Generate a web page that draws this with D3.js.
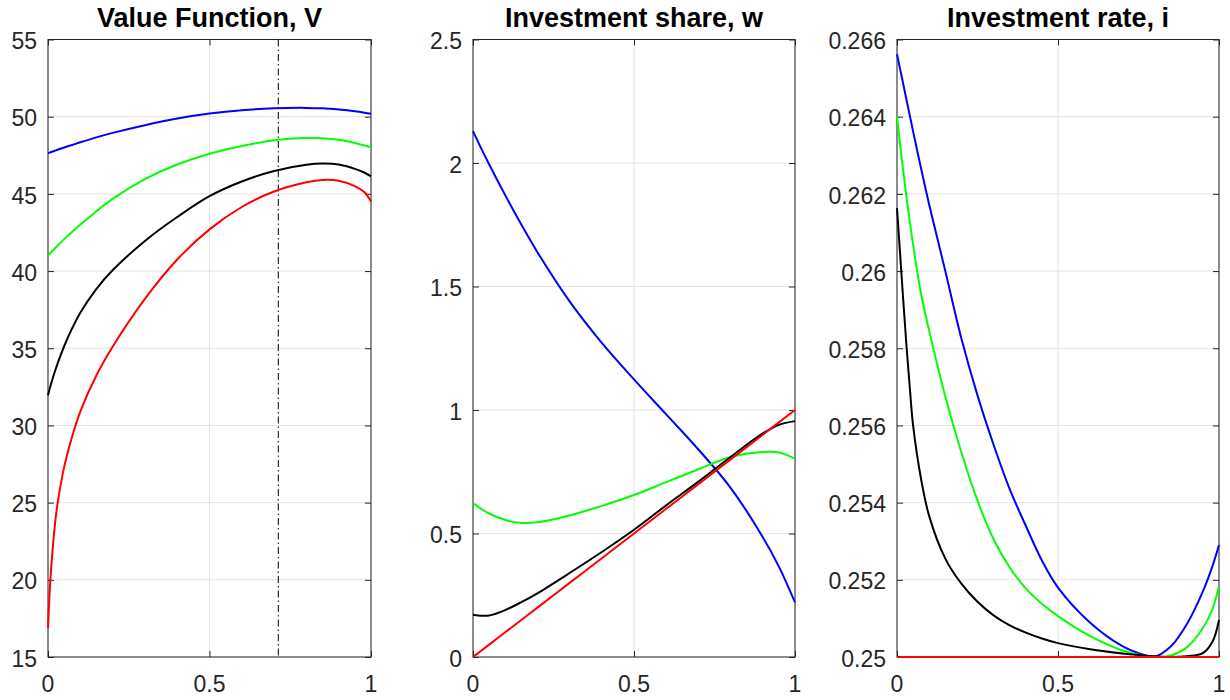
<!DOCTYPE html>
<html>
<head>
<meta charset="utf-8">
<script src="https://cdn.jsdelivr.net/npm/d3@7/dist/d3.min.js"></script>
<style>
body { margin: 0; background: #fff; }
svg { display: block; }
</style>
</head>
<body>
<div id="viz"></div>
<script>
// --- data ---
var titles = ["Value Function, V", "Investment share, w", "Investment rate, i"];
var xTicks = [0, 0.5, 1];
var xTickLabels = ["0", "0.5", "1"];

// panel 1: value function
var xV = [0, 0.005, 0.01, 0.02, 0.03, 0.05, 0.075, 0.1, 0.15, 0.2, 0.3, 0.4, 0.5, 0.6, 0.7, 0.8, 0.85, 0.9, 0.95, 0.98, 1];
var vBlue  = [47.63, 47.67, 47.71, 47.78, 47.86, 48.0, 48.17, 48.34, 48.66, 48.95, 49.45, 49.88, 50.2, 50.42, 50.54, 50.57, 50.54, 50.46, 50.35, 50.26, 50.19];
var vGreen = [41.01, 41.12, 41.23, 41.45, 41.66, 42.07, 42.55, 43.0, 43.88, 44.68, 45.95, 46.9, 47.6, 48.1, 48.48, 48.62, 48.6, 48.5, 48.3, 48.13, 48.0];
var vBlack = [31.96, 32.36, 32.73, 33.41, 34.03, 35.13, 36.3, 37.3, 38.85, 40.05, 41.95, 43.5, 44.85, 45.8, 46.48, 46.88, 46.96, 46.9, 46.62, 46.37, 46.14];
var vRed   = [16.87, 19.2, 20.8, 23.3, 25.0, 27.3, 29.3, 30.9, 33.25, 35.1, 38.2, 40.75, 42.7, 44.15, 45.15, 45.75, 45.9, 45.85, 45.5, 45.1, 44.5];
var vMarker = 0.713;
var vTicks = [15, 20, 25, 30, 35, 40, 45, 50, 55];
var vTickLabels = ["15", "20", "25", "30", "35", "40", "45", "50", "55"];

// panel 2: investment share
var xW = [0, 0.025, 0.05, 0.1, 0.15, 0.2, 0.3, 0.4, 0.5, 0.6, 0.7, 0.8, 0.9, 0.95, 1];
var wBlue  = [2.129, 2.06, 1.995, 1.87, 1.751, 1.639, 1.44, 1.272, 1.124, 0.982, 0.84, 0.685, 0.485, 0.366, 0.221];
var wGreen = [0.623, 0.6, 0.581, 0.555, 0.543, 0.5455, 0.573, 0.612, 0.656, 0.708, 0.76, 0.81, 0.83, 0.828, 0.803];
var wBlack = [0.171, 0.167, 0.168, 0.19, 0.222, 0.258, 0.34, 0.425, 0.515, 0.614, 0.71, 0.81, 0.905, 0.94, 0.955];
var wRed   = [0, 0.025, 0.05, 0.1, 0.15, 0.2, 0.3, 0.4, 0.5, 0.6, 0.7, 0.8, 0.9, 0.95, 1];
var wTicks = [0, 0.5, 1, 1.5, 2, 2.5];
var wTickLabels = ["0", "0.5", "1", "1.5", "2", "2.5"];

// panel 3: investment rate
var xI = [0, 0.01, 0.02, 0.03, 0.04, 0.05, 0.075, 0.1, 0.15, 0.2, 0.25, 0.3, 0.35, 0.4, 0.45, 0.5, 0.6, 0.7, 0.75, 0.8, 0.85, 0.9, 0.95, 0.98, 1];
var iBlue  = [0.26562, 0.26522, 0.26482, 0.26442, 0.26402, 0.26362, 0.26265, 0.26172, 0.26, 0.25825, 0.25678, 0.2555, 0.25435, 0.2534, 0.2525, 0.2518, 0.25089, 0.25028, 0.2501, 0.25001, 0.25027, 0.25085, 0.2517, 0.25236, 0.2529];
var iGreen = [0.2640, 0.26325, 0.26255, 0.26188, 0.26127, 0.26068, 0.2594, 0.25845, 0.25675, 0.2553, 0.25405, 0.25305, 0.25232, 0.25178, 0.25138, 0.25106, 0.25054, 0.25017, 0.25006, 0.25, 0.25004, 0.25025, 0.25075, 0.25125, 0.25185];
var iBlack = [0.26163, 0.2604, 0.25917, 0.258, 0.25695, 0.256, 0.2546, 0.25365, 0.25255, 0.2519, 0.25143, 0.25108, 0.25082, 0.25063, 0.25048, 0.25036, 0.2502, 0.25009, 0.25005, 0.25002, 0.25, 0.25002, 0.2501, 0.2504, 0.25096];
var iRed   = [0.25, 0.25, 0.25, 0.25, 0.25, 0.25, 0.25, 0.25, 0.25, 0.25, 0.25, 0.25, 0.25, 0.25, 0.25, 0.25, 0.25, 0.25, 0.25, 0.25, 0.25, 0.25, 0.25, 0.25, 0.25];
var iTicks = [0.25, 0.252, 0.254, 0.256, 0.258, 0.26, 0.262, 0.264, 0.266];
var iTickLabels = ["0.25", "0.252", "0.254", "0.256", "0.258", "0.26", "0.262", "0.264", "0.266"];

var seriesColors = ["#0000ff", "#00ff00", "#000000", "#ff0000"];

// --- layout ---
var width = 1230, height = 700;
var plotTop = 39.5, plotBottom = 657;
var axisColor = "#262626";
var gridColor = "#e3e3e3";
var font = "'Liberation Sans', Arial, Helvetica, sans-serif";

var svg = d3.select('#viz')
  .append('svg')
  .attr('width', width)
  .attr('height', height)
  .style('background', '#fff');

function drawPanel(left, right, title, xs, series, yDomain, yTicks, yTickLabels, marker) {
  var x = d3.scaleLinear().domain([0, 1]).range([left, right]);
  var y = d3.scaleLinear().domain(yDomain).range([plotBottom, plotTop]);
  var g = svg.append('g');

  // grid
  g.selectAll('line.gy').data(yTicks).enter().append('line')
    .attr('x1', left).attr('x2', right)
    .attr('y1', d => y(d)).attr('y2', d => y(d))
    .attr('stroke', gridColor).attr('stroke-width', 1);
  g.selectAll('line.gx').data(xTicks).enter().append('line')
    .attr('x1', d => x(d)).attr('x2', d => x(d))
    .attr('y1', plotTop).attr('y2', plotBottom)
    .attr('stroke', gridColor).attr('stroke-width', 1);

  // axes: inward ticks on all four sides (box on)
  var tl = 6;
  var axL = d3.axisRight(y).tickValues(yTicks).tickSize(tl).tickFormat('');
  var axR = d3.axisLeft(y).tickValues(yTicks).tickSize(tl).tickFormat('');
  var axB = d3.axisTop(x).tickValues(xTicks).tickSize(tl).tickFormat('');
  var axT = d3.axisBottom(x).tickValues(xTicks).tickSize(tl).tickFormat('');
  [[axL, 'translate(' + left + ',0)'], [axR, 'translate(' + right + ',0)'],
   [axB, 'translate(0,' + plotBottom + ')'], [axT, 'translate(0,' + plotTop + ')']].forEach(function(a) {
    var ag = g.append('g').attr('transform', a[1]).call(a[0]);
    ag.select('.domain').remove();
    ag.selectAll('line').attr('stroke', axisColor);
  });
  g.append('rect')
    .attr('x', left).attr('y', plotTop)
    .attr('width', right - left).attr('height', plotBottom - plotTop)
    .attr('fill', 'none').attr('stroke', axisColor).attr('stroke-width', 1);

  // tick labels
  g.selectAll('text.yl').data(yTicks).enter().append('text')
    .text((d, i) => yTickLabels[i])
    .attr('x', left - 11).attr('y', d => y(d)).attr('dy', '0.42em')
    .attr('text-anchor', 'end')
    .attr('font-family', font).attr('font-size', '23px').attr('fill', axisColor);
  g.selectAll('text.xl').data(xTicks).enter().append('text')
    .text((d, i) => xTickLabels[i])
    .attr('x', d => x(d)).attr('y', plotBottom + 35)
    .attr('text-anchor', 'middle')
    .attr('font-family', font).attr('font-size', '23px').attr('fill', axisColor);

  // title
  g.append('text').text(title)
    .attr('x', (left + right) / 2).attr('y', 27)
    .attr('text-anchor', 'middle')
    .attr('font-family', font).attr('font-size', '27px').attr('font-weight', 'bold')
    .attr('fill', '#000');

  // vertical marker
  if (marker !== undefined) {
    g.append('line')
      .attr('x1', x(marker)).attr('x2', x(marker))
      .attr('y1', plotTop).attr('y2', plotBottom)
      .attr('stroke', '#000').attr('stroke-width', 1)
      .attr('stroke-dasharray', '7,3,1.5,3');
  }

  // curves
  var line = d3.line()
    .x((d, i) => x(xs[i]))
    .y(d => y(d))
    .curve(d3.curveCatmullRom.alpha(0.5));
  series.forEach(function(s, k) {
    g.append('path').datum(s)
      .attr('d', line)
      .attr('fill', 'none')
      .attr('stroke', seriesColors[k])
      .attr('stroke-width', 2);
  });
}

drawPanel(48, 371, titles[0], xV, [vBlue, vGreen, vBlack, vRed], [15, 55], vTicks, vTickLabels, vMarker);
drawPanel(473, 795, titles[1], xW, [wBlue, wGreen, wBlack, wRed], [0, 2.5], wTicks, wTickLabels);
drawPanel(897, 1219, titles[2], xI, [iBlue, iGreen, iBlack, iRed], [0.25, 0.266], iTicks, iTickLabels);
</script>
</body>
</html>
